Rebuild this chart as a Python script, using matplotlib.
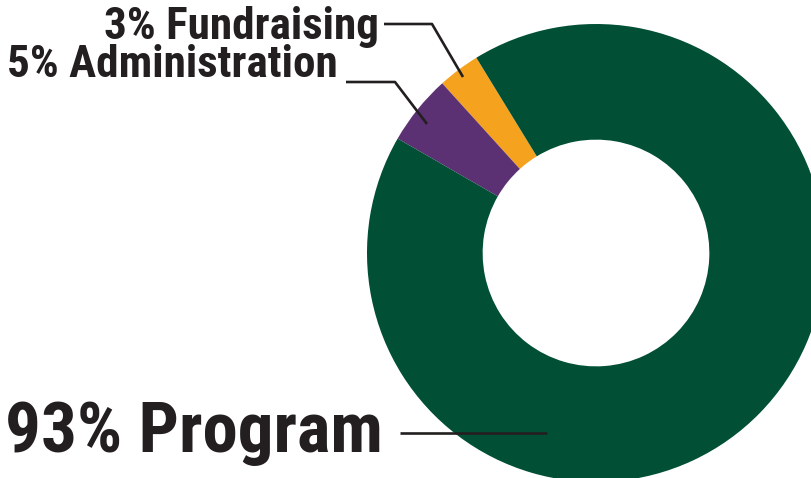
import matplotlib
matplotlib.use("Agg")
import matplotlib.pyplot as plt
from matplotlib import font_manager

categories = ["Fundraising", "Administration", "Program"]
values = [3, 5, 93]
colors = ["#f5a31f", "#5c3173", "#014f35"]
labels = ["3% Fundraising", "5% Administration", "93% Program"]

names = {f.name for f in font_manager.fontManager.ttflist}
fam = None
for cand in ["Liberation Sans Narrow", "DejaVu Sans Condensed", "Roboto Condensed", "Open Sans Condensed"]:
    if cand in names:
        fam = cand
        break
if fam is None:
    fam = "DejaVu Sans"
family = [fam, "DejaVu Sans"]

W, H = 812, 478
fig = plt.figure(figsize=(W / 100, H / 100), dpi=100)
ax = fig.add_axes([0, 0, 1, 1])

cx, cy, R = 596, H - 253, 229
ax.pie(values, colors=colors, startangle=121.5, counterclock=True,
       center=(cx, cy), radius=R, frame=True,
       wedgeprops=dict(width=R * 0.505, edgecolor="none", linewidth=0))
ax.set_xlim(0, W)
ax.set_ylim(0, H)
ax.set_aspect("auto")
ax.axis("off")

tc = "#231f20"
lw = 1.9

def pline(pts):
    xs = [p[0] for p in pts]
    ys = [H - p[1] for p in pts]
    ax.plot(xs, ys, color=tc, lw=lw, solid_capstyle="butt", zorder=5)

pline([(384, 24), (432, 24), (463, 77)])
pline([(346, 82), (395, 82), (427, 124)])
pline([(400, 433), (547, 433)])

ax.text(379, H - 39, labels[0], ha="right", va="baseline", fontsize=32.5,
        fontweight="bold", color=tc, family=family)
ax.text(338, H - 77, labels[1], ha="right", va="baseline", fontsize=32.5,
        fontweight="bold", color=tc, family=family)
ax.text(383, H - 452, labels[2], ha="right", va="baseline", fontsize=51,
        fontweight="bold", color=tc, family=family)

fig.savefig("out.png", dpi=100)
